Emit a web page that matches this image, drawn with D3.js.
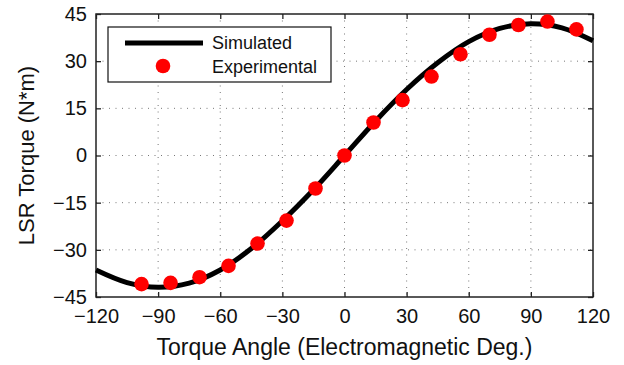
<!DOCTYPE html>
<html>
<head>
<meta charset="utf-8">
<script src="https://cdn.jsdelivr.net/npm/d3@7"></script>
<style>
  body { margin: 0; background: #fff; }
  text { font-family: "Liberation Sans", Arial, Helvetica, sans-serif; fill: #111; }
</style>
</head>
<body>
<div id="chart"></div>
<script>
// simulated curve, every 15 deg
const simAngle = [-120, -105, -90, -75, -60, -45, -30, -15, 0, 15, 30, 45, 60, 75, 90, 105, 120];
const simTorque = [-36.4, -40.4, -41.9, -40.6, -36.4, -29.6, -20.8, -10.9, 0, 11.0, 21.0, 29.5, 36.2, 40.4, 41.9, 40.6, 36.5];

// experimental points
const expAngle = [-98, -84, -70, -56, -42, -28, -14, 0, 14, 28, 42, 56, 70, 84, 98, 112];
const expTorque = [-40.9, -40.5, -38.7, -35.1, -28.0, -20.7, -10.5, 0, 10.5, 17.6, 25.1, 32.2, 38.4, 41.5, 42.6, 40.1];

const xTicks = [-120, -90, -60, -30, 0, 30, 60, 90, 120];
const yTicks = [-45, -30, -15, 0, 15, 30, 45];

const width = 624, height = 365;
const margin = { top: 14, right: 31, bottom: 68, left: 96 };
const w = width - margin.left - margin.right;
const h = height - margin.top - margin.bottom;

const svg = d3.select("#chart").append("svg")
    .attr("width", width)
    .attr("height", height);
const g = svg.append("g").attr("transform", `translate(${margin.left},${margin.top})`);

const x = d3.scaleLinear().domain([-120, 120]).range([0, w]);
const y = d3.scaleLinear().domain([-45, 45]).range([h, 0]);
const fmt = d3.format("d");

// dotted grid
g.append("g").selectAll("line")
    .data(xTicks.slice(1, -1))
    .join("line")
    .attr("x1", d => x(d)).attr("x2", d => x(d))
    .attr("y1", 0).attr("y2", h)
    .attr("stroke", "#777").attr("stroke-width", 1)
    .attr("stroke-dasharray", "1,5.5");
g.append("g").selectAll("line")
    .data(yTicks.slice(1, -1))
    .join("line")
    .attr("y1", d => y(d)).attr("y2", d => y(d))
    .attr("x1", 0).attr("x2", w)
    .attr("stroke", "#777").attr("stroke-width", 1)
    .attr("stroke-dasharray", "1,5.5");

// axes, ticks inward on all four sides
const tickFont = "20px";
const xAxis = g.append("g").attr("transform", `translate(0,${h})`)
    .call(d3.axisBottom(x).tickValues(xTicks).tickFormat(fmt).tickSizeInner(-5).tickSizeOuter(0).tickPadding(12));
const yAxis = g.append("g")
    .call(d3.axisLeft(y).tickValues(yTicks).tickFormat(fmt).tickSizeInner(-5).tickSizeOuter(0).tickPadding(9));
const xTop = g.append("g")
    .call(d3.axisTop(x).tickValues(xTicks).tickFormat("").tickSizeInner(-5).tickSizeOuter(0));
const yRight = g.append("g").attr("transform", `translate(${w},0)`)
    .call(d3.axisRight(y).tickValues(yTicks).tickFormat("").tickSizeInner(-5).tickSizeOuter(0));
[xAxis, yAxis, xTop, yRight].forEach(a => {
    a.select(".domain").remove();
    a.selectAll("line").attr("stroke", "#222").attr("stroke-width", 1.3);
    a.selectAll("text").style("font-size", tickFont).attr("fill", "#111")
        .style("font-family", '"Liberation Sans", Arial, sans-serif');
});
g.append("rect")
    .attr("width", w).attr("height", h)
    .attr("fill", "none").attr("stroke", "#222").attr("stroke-width", 1.5);

// simulated line
const simData = simAngle.map((a, i) => [a, simTorque[i]]);
const line = d3.line().x(d => x(d[0])).y(d => y(d[1])).curve(d3.curveCatmullRom);
g.append("path")
    .datum(simData)
    .attr("d", line)
    .attr("fill", "none")
    .attr("stroke", "#000")
    .attr("stroke-width", 5);

// experimental dots
g.append("g").selectAll("circle")
    .data(expAngle.map((a, i) => [a, expTorque[i]]))
    .join("circle")
    .attr("cx", d => x(d[0]))
    .attr("cy", d => y(d[1]))
    .attr("r", 7.3)
    .attr("fill", "#ff0000");

// axis titles
svg.append("text")
    .attr("x", margin.left + w / 2)
    .attr("y", 355)
    .attr("text-anchor", "middle")
    .style("font-size", "23px")
    .text("Torque Angle (Electromagnetic Deg.)");
svg.append("text")
    .attr("transform", `translate(34,${margin.top + h / 2}) rotate(-90)`)
    .attr("text-anchor", "middle")
    .style("font-size", "22px")
    .text("LSR Torque (N*m)");

// legend
const legend = svg.append("g").attr("transform", "translate(108,27)");
legend.append("rect")
    .attr("width", 223).attr("height", 55)
    .attr("fill", "#fff").attr("stroke", "#111").attr("stroke-width", 1.2);
legend.append("line")
    .attr("x1", 17).attr("x2", 95).attr("y1", 16).attr("y2", 16)
    .attr("stroke", "#000").attr("stroke-width", 5);
legend.append("circle")
    .attr("cx", 55).attr("cy", 39).attr("r", 7.3).attr("fill", "#ff0000");
legend.append("text").attr("x", 104).attr("y", 22).style("font-size", "18px").text("Simulated");
legend.append("text").attr("x", 104).attr("y", 46).style("font-size", "18px").text("Experimental");
</script>
</body>
</html>
